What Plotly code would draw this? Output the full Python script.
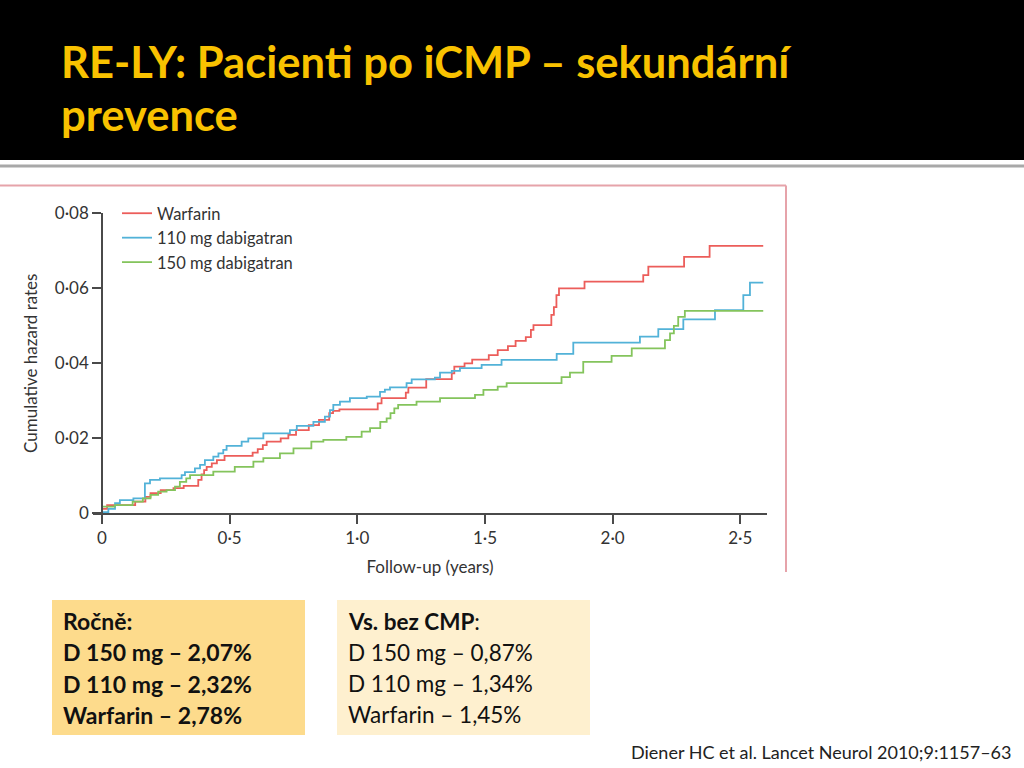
"""
RE-LY slide: cumulative hazard of stroke/SE in patients with prior stroke/TIA,
step curves for warfarin and both dabigatran doses
"""
import plotly.graph_objects as go

# follow-up (years) at which each step starts, and cumulative hazard from there on
warf_t = [0.00, 0.02, 0.13, 0.17, 0.19, 0.23, 0.28, 0.32, 0.377, 0.39, 0.40, 0.41, 0.43, 0.45,
          0.48, 0.59, 0.61, 0.63, 0.645, 0.70, 0.73, 0.76, 0.81, 0.85, 0.89, 0.905, 0.93, 1.08,
          1.095, 1.19, 1.20, 1.27, 1.37, 1.38, 1.42, 1.45, 1.515, 1.55, 1.59, 1.62, 1.66, 1.68,
          1.69, 1.76, 1.77, 1.78, 1.79, 1.89, 2.12, 2.14, 2.28, 2.38, 2.59]
warf_y = [0.0012, 0.0022, 0.0031, 0.0044, 0.0054, 0.0062, 0.0067, 0.0073, 0.0089, 0.0104, 0.0115,
          0.0124, 0.0133, 0.0142, 0.0153, 0.0162, 0.0171, 0.0182, 0.0191, 0.0200, 0.0209, 0.0222,
          0.0235, 0.0249, 0.0267, 0.0273, 0.0277, 0.0293, 0.0307, 0.0322, 0.0335, 0.0358, 0.0373,
          0.0391, 0.0400, 0.0410, 0.0422, 0.0435, 0.0446, 0.0460, 0.0470, 0.0489, 0.0502, 0.0529,
          0.0550, 0.0582, 0.0600, 0.0618, 0.0635, 0.0658, 0.0684, 0.0713, 0.0713]

d110_t = [0.00, 0.025, 0.051, 0.07, 0.123, 0.168, 0.188, 0.227, 0.312, 0.325, 0.364, 0.384, 0.403,
          0.436, 0.456, 0.475, 0.488, 0.547, 0.573, 0.632, 0.736, 0.763, 0.828, 0.873, 0.893,
          0.906, 0.932, 0.971, 1.037, 1.089, 1.108, 1.128, 1.193, 1.213, 1.304, 1.324, 1.37,
          1.402, 1.487, 1.565, 1.781, 1.846, 2.107, 2.179, 2.277, 2.401, 2.512, 2.538, 2.59]
d110_y = [0.0003, 0.0012, 0.0027, 0.0035, 0.0040, 0.0080, 0.0089, 0.0093, 0.0102, 0.0110, 0.0120,
          0.0129, 0.0142, 0.0151, 0.0160, 0.0169, 0.0180, 0.0191, 0.0200, 0.0213, 0.0222, 0.0233,
          0.0244, 0.0258, 0.0275, 0.0289, 0.0298, 0.0307, 0.0311, 0.0324, 0.0330, 0.0336, 0.0347,
          0.0357, 0.0362, 0.0375, 0.0380, 0.0387, 0.0396, 0.0409, 0.0425, 0.0455, 0.0471, 0.0491,
          0.0517, 0.0542, 0.0582, 0.0615, 0.0615]

d150_t = [0.00, 0.05, 0.12, 0.16, 0.19, 0.22, 0.253, 0.286, 0.305, 0.33, 0.345, 0.436, 0.52, 0.593,
          0.632, 0.697, 0.75, 0.82, 0.867, 0.957, 1.017, 1.05, 1.09, 1.115, 1.13, 1.145, 1.16,
          1.232, 1.324, 1.461, 1.494, 1.55, 1.585, 1.80, 1.833, 1.885, 1.996, 2.075, 2.205, 2.225,
          2.24, 2.257, 2.283, 2.59]
d150_y = [0.0018, 0.0022, 0.0031, 0.0040, 0.0049, 0.0058, 0.0062, 0.0071, 0.0084, 0.0093, 0.0102,
          0.0111, 0.0124, 0.0138, 0.0147, 0.0160, 0.0173, 0.0191, 0.0196, 0.0204, 0.0218, 0.0227,
          0.0244, 0.0253, 0.0267, 0.0280, 0.0289, 0.0298, 0.0307, 0.0316, 0.0329, 0.0338, 0.0347,
          0.0363, 0.0375, 0.0404, 0.0420, 0.0440, 0.0462, 0.0480, 0.0500, 0.0524, 0.0540, 0.0540]

y_ticks = [0, 0.02, 0.04, 0.06, 0.08]
y_labels = ["0", "0·02", "0·04", "0·06", "0·08"]
x_ticks = [0, 0.5, 1.0, 1.5, 2.0, 2.5]
x_labels = ["0", "0·5", "1·0", "1·5", "2·0", "2·5"]

annual = ["<b>Ročně:</b>", "<b>D 150 mg – 2,07%</b>", "<b>D 110 mg – 2,32%</b>", "<b>Warfarin – 2,78%</b>"]
no_stroke = ["<b>Vs. bez CMP</b>:", "D 150 mg – 0,87%", "D 110 mg – 1,34%", "Warfarin – 1,45%"]

W, H = 1024, 768
def px(v): return v / W
def py(v): return 1 - v / H

fig = go.Figure()
series = [("Warfarin", warf_t, warf_y, "#ec5d5a"),
          ("110 mg dabigatran", d110_t, d110_y, "#52b2d8"),
          ("150 mg dabigatran", d150_t, d150_y, "#84c45c")]
for name, t, y, col in series:
    fig.add_trace(go.Scatter(x=t, y=y, name=name, mode="lines",
                             line=dict(color=col, width=1.8, shape="hv")))

axis_col = "#4a4a4a"
fig.update_xaxes(domain=[px(93), px(767)], range=[-9 / 255.3, 665 / 255.3], automargin=False,
                 tickvals=x_ticks, ticktext=x_labels, ticks="outside", ticklen=9,
                 tickwidth=1.5, tickcolor=axis_col, showline=True, linecolor=axis_col,
                 linewidth=1.5, showgrid=False, zeroline=False,
                 tickfont=dict(family="Lato", size=17, color="#333"),
                 title=dict(text="Follow-up (years)", standoff=14,
                            font=dict(family="Lato", size=17, color="#333")))
fig.update_yaxes(domain=[py(513.3), py(213.3)], range=[0, 0.08], anchor="free", automargin=False,
                 position=px(102), tickvals=y_ticks, ticktext=y_labels, ticks="outside",
                 ticklen=9, tickwidth=1.5, tickcolor=axis_col, showline=True,
                 linecolor=axis_col, linewidth=1.5, showgrid=False, zeroline=False,
                 tickfont=dict(family="Lato", size=17, color="#333"),
                 title=dict(text="Cumulative hazard rates", standoff=12,
                            font=dict(family="Lato", size=17, color="#333")))

shapes = [
    dict(type="rect", xref="paper", yref="paper", x0=0, x1=1, y0=py(160), y1=1,
         fillcolor="black", line_width=0, layer="below"),
    dict(type="line", xref="paper", yref="paper", x0=0, x1=1, y0=py(166), y1=py(166),
         line=dict(color="#a8a8a8", width=3), layer="below"),
    dict(type="line", xref="paper", yref="paper", x0=0, x1=px(786), y0=py(185.5), y1=py(185.5),
         line=dict(color="#e6a3aa", width=2), layer="below"),
    dict(type="line", xref="paper", yref="paper", x0=px(786), x1=px(786), y0=py(185.5), y1=py(572),
         line=dict(color="#e6a3aa", width=2), layer="below"),
    dict(type="rect", xref="paper", yref="paper", x0=px(52), x1=px(305), y0=py(735), y1=py(600),
         fillcolor="#fddb8c", line_width=0, layer="below"),
    dict(type="rect", xref="paper", yref="paper", x0=px(337), x1=px(590), y0=py(735), y1=py(600),
         fillcolor="#fef0cf", line_width=0, layer="below"),
]

title_font = dict(family="Lato", size=43.5, color="#f9c200")
annotations = [
    dict(text="<b>RE-LY: Pacienti po iCMP – sekundární</b>", x=px(59), y=py(61),
         xanchor="left", yanchor="middle", font=title_font),
    dict(text="<b>prevence</b>", x=px(59), y=py(114), xanchor="left", yanchor="middle",
         font=title_font),
    dict(text="Diener HC et al. Lancet Neurol 2010;9:1157–63", x=px(1014), y=py(752),
         xanchor="right", yanchor="middle", font=dict(family="Lato", size=18, color="#222")),
]
for i, row in enumerate(annual):
    annotations.append(dict(text=row, x=px(61), y=py(621 + i * 31.3), xanchor="left",
                            yanchor="middle", font=dict(family="Lato", size=23, color="#111")))
for i, row in enumerate(no_stroke):
    annotations.append(dict(text=row, x=px(346), y=py(621 + i * 31.3), xanchor="left",
                            yanchor="middle", font=dict(family="Lato", size=22.5, color="#111")))
for a in annotations:
    a.update(xref="paper", yref="paper", showarrow=False)

fig.update_layout(
    width=W, height=H,
    margin=dict(l=0, r=0, t=0, b=0),
    paper_bgcolor="white", plot_bgcolor="white",
    shapes=shapes, annotations=annotations,
    showlegend=True,
    legend=dict(x=px(117), y=py(196), xanchor="left", yanchor="top",
                bgcolor="rgba(0,0,0,0)", tracegroupgap=0,
                font=dict(family="Lato", size=16.5, color="#333")),
)

fig.write_html("out.html", config={"displayModeBar": False},
               post_script="document.body.style.margin='0';")
